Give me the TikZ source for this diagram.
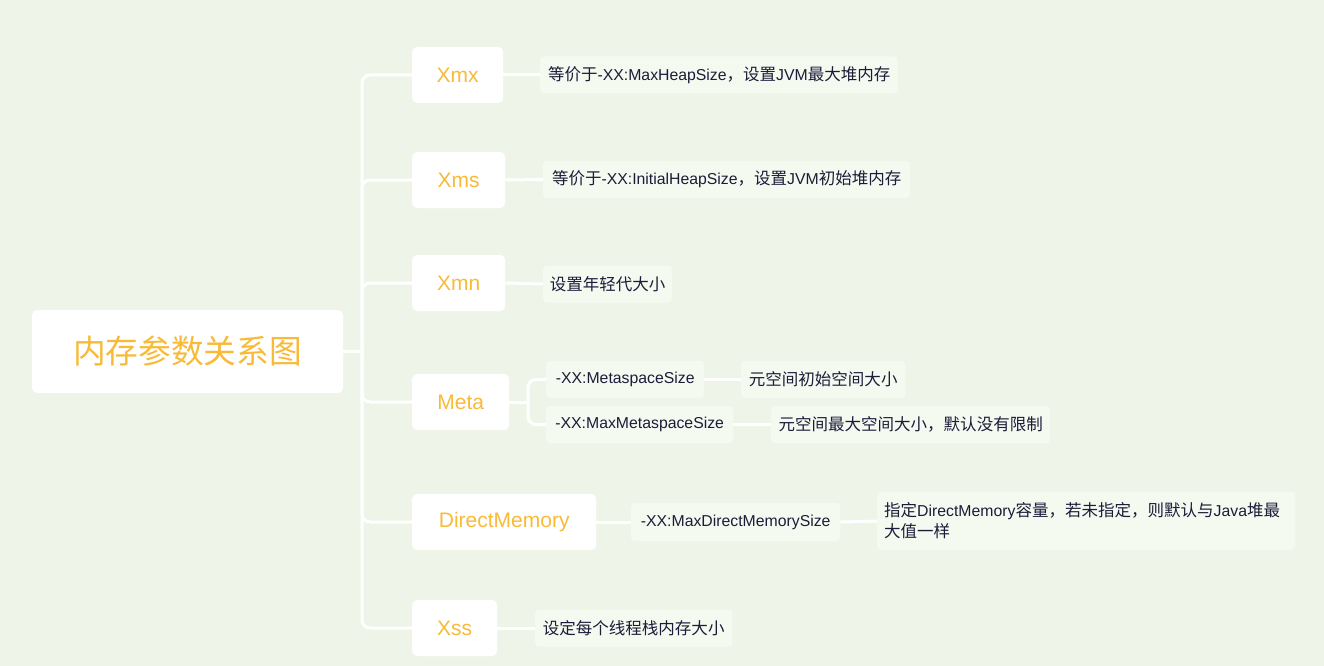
\documentclass[tikz,border=0pt]{standalone}
\usepackage{fontspec}
\setmainfont{Liberation Sans}
\newfontfamily\cjk[Scale=1.045]{Noto Sans CJK SC}
\newcommand{\zh}[1]{{\cjk #1}}
\definecolor{bgcolor}{RGB}{238,245,232}
\definecolor{leafcolor}{RGB}{245,250,241}
\definecolor{titlecolor}{RGB}{249,186,56}
\definecolor{inkcolor}{RGB}{28,28,56}

\begin{document}
\begin{tikzpicture}[x=1pt,y=-1pt,
	rootbox/.style={fill=white, rounded corners=5pt, minimum width=311pt, minimum height=83pt, inner sep=0pt, text=titlecolor, font=\fontsize{31.3}{36}\selectfont},
	branchbox/.style={fill=white, rounded corners=5pt, anchor=west, minimum width=#1, minimum height=56pt, inner sep=0pt, text=titlecolor, font=\fontsize{21}{25}\selectfont},
	leafbox/.style={fill=leafcolor, rounded corners=4pt, anchor=west, minimum width=#1, minimum height=37pt, inner sep=0pt, text=inkcolor, font=\fontsize{15.8}{21}\selectfont},
	link/.style={draw=white, line width=3pt},
	elbow/.style={link, rounded corners=8pt}]
			\fill[bgcolor] (0,0) rectangle (1324,666);
			\node[rootbox] (root) at (187.5,351.5) {\zh{内存参数关系图}};
			\coordinate (trunk) at (362,351.5);
			\node[branchbox=91pt] (xmx) at (412,75) {Xmx};
			\node[branchbox=93pt] (xms) at (412,180) {Xms};
			\node[branchbox=93pt] (xmn) at (412,283) {Xmn};
			\node[branchbox=97pt] (meta) at (412,402) {Meta};
			\node[branchbox=184pt] (dm) at (412,522) {DirectMemory};
			\node[branchbox=85pt] (xss) at (412,628) {Xss};
			\draw[link] (root.east) -- (trunk);
			\foreach\b in {xmx,xms,xmn,meta,dm,xss}{
				\draw[elbow] (trunk) |- (\b.west);
			}
			% leaves
			\node[leafbox=358pt] (xmxleaf) at (540,75) {\zh{等价于}-XX:MaxHeapSize\zh{，设置}JVM\zh{最大堆内存}};
			\node[leafbox=367pt] (xmsleaf) at (543,179.5) {\zh{等价于}-XX:InitialHeapSize\zh{，设置}JVM\zh{初始堆内存}};
			\node[leafbox=129pt] (xmnleaf) at (543,284) {\zh{设置年轻代大小}};
			\node[leafbox=197pt] (xssleaf) at (535,628) {\zh{设定每个线程栈内存大小}};
			\draw[link] (xmx.east) -- (xmxleaf.west);
			\draw[link] (xms.east) -- (xmsleaf.west);
			\draw[link] (xmn.east) -- (xmnleaf.west);
			\draw[link] (xss.east) -- (xssleaf.west);
			% meta
			\coordinate (metafork) at (528,402);
			\node[leafbox=158pt] (metaone) at (546,379.5) {-XX:MetaspaceSize};
			\node[leafbox=187pt] (metatwo) at (546,424.5) {-XX:MaxMetaspaceSize};
			\node[leafbox=164pt] (metaoneleaf) at (741,379.5) {\zh{元空间初始空间大小}};
			\node[leafbox=279pt] (metatwoleaf) at (771,424.5) {\zh{元空间最大空间大小，默认没有限制}};
			\draw[link] (meta.east) -- (metafork);
			\draw[elbow] (metafork) |- (metaone.west);
			\draw[elbow] (metafork) |- (metatwo.west);
			\draw[link] (metaone.east) -- (metaoneleaf.west);
			\draw[link] (metatwo.east) -- (metatwoleaf.west);
			% direct memory
			\node[leafbox=209pt, minimum height=38pt] (dmopt) at (631,522) {-XX:MaxDirectMemorySize};
			\node[leafbox=418pt, minimum height=58pt, text width=404pt, align=left] (dmleaf) at (877,521) {\zh{指定}DirectMemory\zh{容量，若未指定，则默认与}Java\zh{堆最}\\\zh{大值一样}};
			\draw[link] (dm.east) -- (dmopt.west);
			\draw[link] (dmopt.east) -- (dmleaf.west);
		\end{tikzpicture}
\end{document}
